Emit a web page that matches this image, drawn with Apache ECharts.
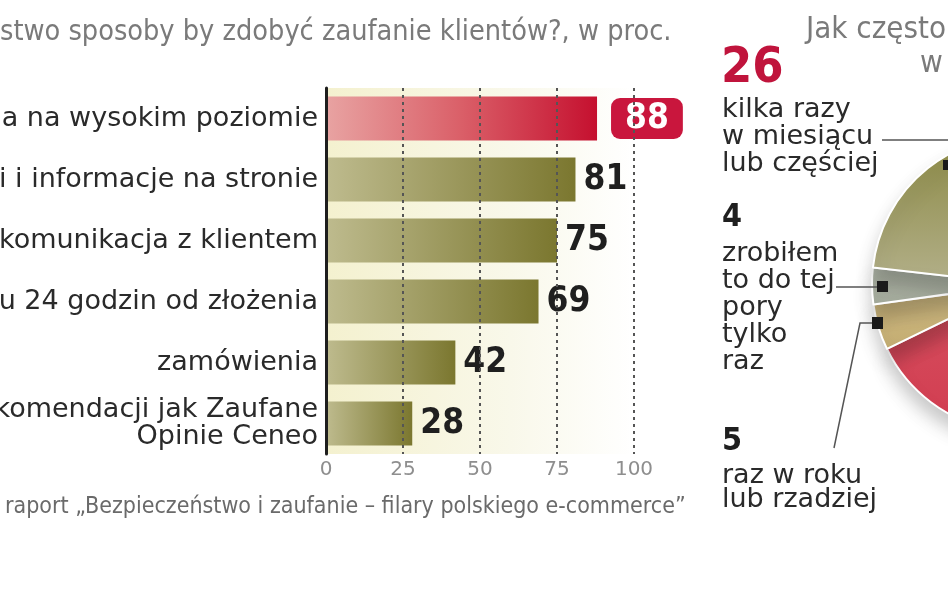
<!DOCTYPE html>
<html>
<head>
<meta charset="utf-8">
<script src="https://cdn.jsdelivr.net/npm/echarts@6/dist/echarts.min.js"></script>
<style>
html,body{margin:0;padding:0;background:#fff;}
#c{width:948px;height:593px;}
</style>
</head>
<body>
<div id="c"></div>
<script>
// ---- data ----
const categories = [
  'a na wysokim poziomie',
  'i i informacje na stronie',
  'komunikacja z klientem',
  'u 24 godzin od złożenia',
  'zamówienia',
  'komendacji jak Zaufane\nOpinie Ceneo'
];
const values = [88, 81, 75, 69, 42, 28];
const xTicks = [0, 25, 50, 75, 100];

const pieNames = [
  'kilka razy w roku',
  'raz w roku lub rzadziej',
  'zrobiłem to do tej pory tylko raz',
  'kilka razy w miesiącu lub częściej'
];
const pieValues = [65, 5, 4, 26];

const titleText = 'stwo sposoby by zdobyć zaufanie klientów?, w proc.';
const sourceText = 'raport \u201EBezpieczeństwo i zaufanie \u2013 filary polskiego e-commerce\u201D';
const pieTitle1 = 'Jak często';
const pieTitle2 = 'w';

// ---- styles ----
const F = "'DejaVu Sans', sans-serif";
const FC = "'DejaVu Sans Condensed', 'DejaVu Sans', sans-serif";

function lin(c0, c1, vertical) {
  return {type: 'linear', x: 0, y: 0, x2: vertical ? 0 : 1, y2: vertical ? 1 : 0,
    colorStops: [{offset: 0, color: c0}, {offset: 1, color: c1}]};
}
const olive = lin('#bebb8e', '#7b772f');
const red = {type: 'linear', x: 0, y: 0, x2: 1, y2: 0,
  colorStops: [{offset: 0, color: '#e8a3a2'}, {offset: 0.5, color: '#da5f68'}, {offset: 1, color: '#c5102f'}]};

const barData = values.map((v, i) => {
  if (i === 0) {
    return {value: v, itemStyle: {color: red},
      label: {color: '#fff', backgroundColor: '#c9163d', borderRadius: 9,
        padding: [4, 14, 2, 14], distance: 14}};
  }
  return {value: v, itemStyle: {color: olive}};
});

const pieColors = [
  lin('#d9646f', '#d23c50', true),
  lin('#d2bd85', '#c4ad72', true),
  lin('#b0b6a8', '#a4ab9c', true),
  lin('#8b8944', '#b3b08a', true)
];

const chart = echarts.init(document.getElementById('c'), null, {renderer: 'canvas'});
chart.setOption({
  backgroundColor: '#ffffff',
  animation: false,
  grid: {
    left: 326, right: 314, top: 88, bottom: 139,
    outerBoundsMode: 'none', containLabel: false,
    show: true, borderWidth: 0,
    backgroundColor: {type: 'linear', x: 0, y: 0, x2: 1, y2: 0,
      colorStops: [{offset: 0, color: '#f4f1cf'}, {offset: 0.6, color: '#f9f8ea'}, {offset: 1, color: '#ffffff'}]}
  },
  xAxis: {
    type: 'value', min: xTicks[0], max: xTicks[xTicks.length - 1], interval: xTicks[1] - xTicks[0],
    z: 10,
    axisLine: {show: false}, axisTick: {show: false},
    axisLabel: {color: '#8e8e8e', fontFamily: F, fontSize: 20, margin: 6},
    splitLine: {show: true, showMinLine: false, lineStyle: {color: '#555', width: 2, type: [3, 4]}}
  },
  yAxis: {
    type: 'category', inverse: true, data: categories, z: 11,
    axisLine: {show: true, lineStyle: {color: '#1e1e1e', width: 3}},
    axisTick: {show: false},
    axisLabel: {color: '#2a2a2a', fontFamily: F, fontSize: 27, margin: 8, lineHeight: 27, align: 'right'}
  },
  series: [
    {
      type: 'bar', data: barData, barWidth: '72%',
      label: {show: true, position: 'right', distance: 8, color: '#1f1f1f',
        fontFamily: FC, fontWeight: 'bold', fontSize: 35},
      z: 2
    },
    {
      type: 'pie', center: [1020, 284], radius: 148, startAngle: 80, clockwise: true,
      label: {show: false}, labelLine: {show: false}, silent: true,
      itemStyle: {borderColor: '#fff', borderWidth: 2, shadowBlur: 18, shadowColor: 'rgba(0,0,0,0.22)', shadowOffsetY: 12},
      data: pieValues.map((v, i) => ({value: v, name: pieNames[i], itemStyle: {color: pieColors[i]}}))
    }
  ],
  graphic: [
    {type: 'text', left: 0, top: 18, style: {text: titleText, fill: '#7a7a7a', font: '400 28.6px ' + FC}},
    {type: 'text', left: 5, top: 496, style: {text: sourceText, fill: '#6a6a6a', font: '400 23px ' + FC}},
    {type: 'text', left: 806, top: 14, style: {text: pieTitle1, fill: '#7a7a7a', font: '400 31px ' + FC}},
    {type: 'text', left: 920, top: 48, style: {text: pieTitle2, fill: '#7a7a7a', font: '400 31px ' + FC}},
    {type: 'text', left: 721, top: 44, style: {text: String(pieValues[3]), fill: '#c0143c', font: 'bold 50px ' + FC}},
    {type: 'text', left: 722, top: 96, style: {text: 'kilka razy\nw miesiącu\nlub częściej', fill: '#2a2a2a', font: '400 27px ' + F, lineHeight: 27}},
    {type: 'text', left: 722, top: 202, style: {text: String(pieValues[2]), fill: '#1f1f1f', font: 'bold 32px ' + FC}},
    {type: 'text', left: 722, top: 240, style: {text: 'zrobiłem\nto do tej\npory\ntylko\nraz', fill: '#2a2a2a', font: '400 27px ' + F, lineHeight: 27}},
    {type: 'text', left: 722, top: 426, style: {text: String(pieValues[1]), fill: '#1f1f1f', font: 'bold 32px ' + FC}},
    {type: 'text', left: 722, top: 462, style: {text: 'raz w roku\nlub rzadziej', fill: '#2a2a2a', font: '400 27px ' + F, lineHeight: 24}},
    {type: 'polyline', shape: {points: [[882, 140], [948, 140]]}, style: {stroke: '#555', lineWidth: 1.5}},
    {type: 'rect', shape: {x: 943, y: 160, width: 10, height: 10}, style: {fill: '#1a1a1a'}, z: 20},
    {type: 'polyline', shape: {points: [[836, 287], [880, 287]]}, style: {stroke: '#555', lineWidth: 1.5}, z: 20},
    {type: 'rect', shape: {x: 877, y: 281, width: 11, height: 11}, style: {fill: '#1a1a1a'}, z: 20},
    {type: 'polyline', shape: {points: [[834, 448], [860, 323], [874, 323]]}, style: {stroke: '#555', lineWidth: 1.5}, z: 20},
    {type: 'rect', shape: {x: 872, y: 317, width: 11, height: 12}, style: {fill: '#1a1a1a'}, z: 20}
  ]
});
</script>
</body>
</html>
